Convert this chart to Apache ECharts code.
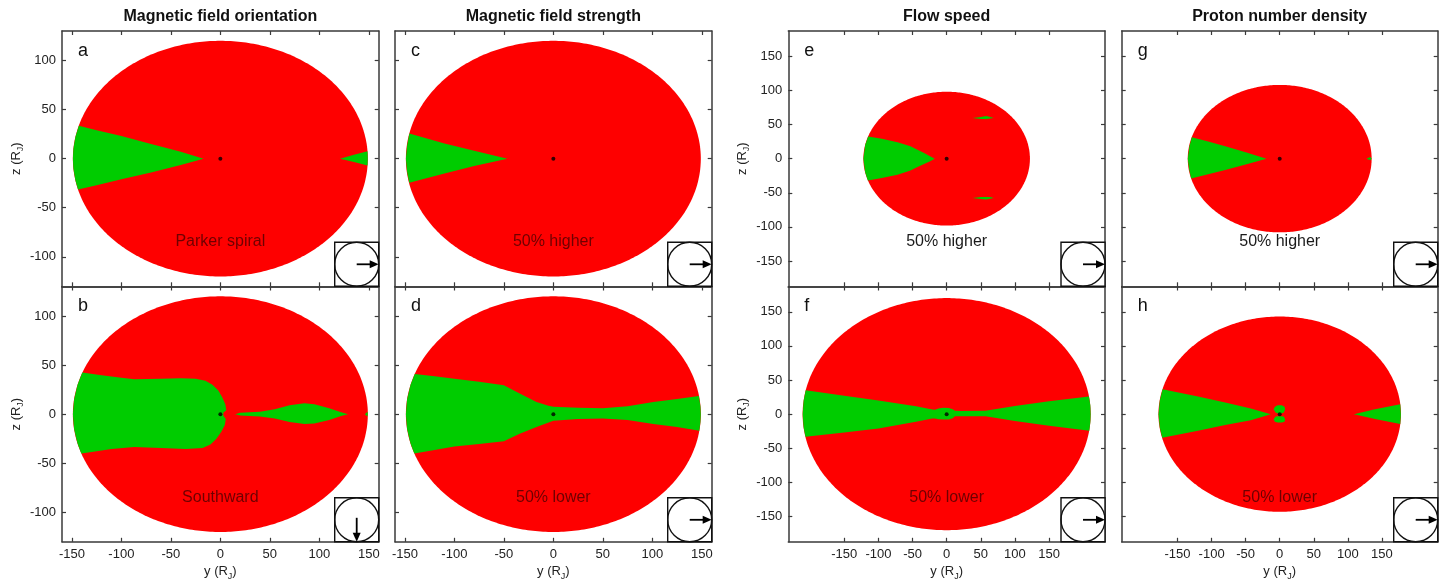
<!DOCTYPE html>
<html><head><meta charset="utf-8">
<script src="https://cdn.jsdelivr.net/npm/echarts@6/dist/echarts.min.js"></script>
<style>html,body{margin:0;padding:0;background:#fff}#c{width:1445px;height:585px}</style>
</head><body><div id="c"></div>
<script>
// ---------------- DATA ----------------
const columnTitles = ['Magnetic field orientation', 'Magnetic field strength', 'Flow speed', 'Proton number density'];
const panelLetters = ['a', 'b', 'c', 'd', 'e', 'f', 'g', 'h'];
const panelNotes = ['Parker spiral', 'Southward', '50% higher', '50% lower', '50% higher', '50% lower', '50% higher', '50% lower'];
const imfArrow = ['right', 'down', 'right', 'right', 'right', 'right', 'right', 'right'];
const yTicks = [-150, -100, -50, 0, 50, 100, 150];
const zTicksNarrow = [-100, -50, 0, 50, 100];
const zTicksWide = [-150, -100, -50, 0, 50, 100, 150];
const rangeNarrow = { y: 160, z: 130 };
const rangeWide = { y: 232, z: 187 };
// magnetopause cross-section half-widths (R_J) per panel a..h
const magnetopauseY = [149, 149, 149, 149, 122, 211, 135, 178];
const magnetopauseZ = [120, 120, 120, 120, 98, 170, 108, 143];
// Jupiter position
const origin = [[0, 0]];
// green regions (y, z in R_J)
const greenA = [
  [[-17,0],[-40,7],[-70,15],[-100,23],[-125,29],[-143,33.5],[-146.5,22],[-148.5,10],[-149,0],[-148.5,-10],[-146.5,-22],[-143.8,-31.5],[-125,-27],[-100,-21],[-70,-14],[-40,-6.5]],
  [[121,0],[135,4],[148.7,7.5],[149,0],[148.7,-7],[135,-3.5]]
];
const greenB = [
  [[-139.5,42.5],[-120,39.5],[-100,37],[-87,35.5],[-60,36],[-40,36.5],[-25,36],[-15,34],[-8,30],[-2,24],[2,17],[5,10],[6,4],[3,1.5],[3,-1.5],[5.5,-5],[4.5,-11],[1,-18],[-4,-25],[-10,-31],[-18,-34.5],[-35,-35.5],[-60,-34.5],[-87,-33.5],[-110,-35.5],[-130,-38.5],[-140.5,-40],[-144.3,-30],[-147.8,-15],[-149,0],[-147.8,15],[-144.3,30]],
  [[15,0],[20,1.5],[40,2.5],[55,5],[70,9],[85,11],[95,10],[110,6],[122,2],[129,0],[122,-2],[110,-6],[95,-9.5],[85,-10],[70,-8],[55,-4.5],[40,-2.5],[20,-1.5]],
  [[146,0],[148.7,2.5],[149,0],[148.7,-2.5]]
];
const greenC = [
  [[-46.5,0],[-80,8],[-110,15.5],[-145.5,25.5],[-147.8,13],[-149,0],[-147.8,-13],[-145.6,-24.5],[-110,-15],[-80,-7.5]]
];
const greenD = [
  [[-140,41],[-120,38.5],[-100,36],[-75,33],[-50,29.5],[-34,21],[-17,12.5],[-5,8.5],[0,7.5],[25,6.5],[50,6],[75,8],[101,12.5],[125,15.5],[147,18.5],
   [148.6,8],[149,0],[148.6,-8],[147.5,-17],
   [125,-13],[101,-10],[75,-6],[50,-4.5],[25,-5],[0,-6.8],[-17,-13],[-34,-20],[-50,-27.5],[-75,-30.5],[-100,-33],[-120,-36.5],[-140.5,-40],
   [-144.3,-30],[-147.8,-15],[-149,0],[-147.8,15],[-144.3,30]]
];
const greenE = [
  [[-17.5,0],[-25,4],[-33,8.3],[-45,14],[-53,18],[-72,24],[-95,29],[-115,32.5],[-119.4,20],[-122,0],[-119.4,-20],[-115.5,-32],[-95,-28.5],[-72,-23.5],[-53,-17.5],[-45,-13.5],[-33,-8],[-25,-4]],
  [[38,59.5],[50,61],[58,62.5],[64,61],[69,59.5],[58,58],[50,58]],
  [[38,-57.5],[50,-56],[58,-56],[64,-56],[69,-57.5],[58,-60],[50,-59]]
];
const greenF = [
  [[-206.5,35],[-150,27],[-100,20],[-45,11.7],[-21,6.9],[-17,6.5],[-12,8.3],[-5,9.2],[3,9],[9,7],[12,4.8],[20,4.6],[57,4.8],[100,12],[150,19],[208.5,26],
   [210.5,13],[211,0],[210.5,-12],[209,-24.4],
   [150,-17],[100,-10],[57,-3],[20,-3],[12,-3],[9,-6],[3,-8],[-5,-8],[-12,-7.5],[-17,-6.3],[-21,-6.3],[-45,-11.2],[-100,-21],[-150,-27],[-206.8,-33],
   [-209.5,-20],[-211,0],[-209.5,20]]
];
const greenG = [
  [[-19.5,0],[-50,9.5],[-80,18],[-105,25],[-129,31.5],[-132.5,18],[-135,0],[-133,-15],[-130,-29],[-105,-23],[-80,-16.5],[-50,-8.5]],
  [[127.5,0],[133,2.5],[135,0],[133,-2.5]]
];
const greenH = [
  [[-13,0],[-42.5,8.3],[-80,17],[-120,26],[-172,36.5],[-176,20],[-178,0],[-176,-20],[-172.5,-34.6],[-120,-24.5],[-80,-16],[-42.5,-8.8]],
  [[-9,7],[-7,11],[-3,13],[3,13],[7,11],[8,7],[6,2.5],[2,1],[-2,1],[-6,2.5]],
  [[-9,-7.5],[-6,-3.5],[-2,-3],[2,-3],[6,-3.5],[8,-7.5],[7,-11],[3,-12.2],[-3,-12.2],[-7,-11]],
  [[109,0],[140,7],[177,14.6],[178,0],[177,-14.6],[140,-7]]
];
const greenRegions = [greenA, greenB, greenC, greenD, greenE, greenF, greenG, greenH];

// ---------------- LAYOUT / STYLE ----------------
const RED = '#fe0000', GREEN = '#00cc00', AXIS = '#3a3a3a';
const FONT = "'Liberation Sans', Arial, Helvetica, sans-serif";
const colLeft = [62, 395, 788.3, 1121.7];
const colWidth = [316.7, 316.7, 316.7, 316];
const rowTop = [31, 286.5];
const rowHeight = 255.3;

const grids = [], xAxes = [], yAxes = [], series = [], graphics = [];
const rich = {
  a: { fontSize: 13, lineHeight: 18, color: '#222', fontFamily: FONT },
  s: { fontSize: 9, lineHeight: 9, verticalAlign: 'bottom', color: '#222', fontFamily: FONT }
};

for (let i = 0; i < 8; i++) {
  const col = Math.floor(i / 2), row = i % 2;
  const wide = col >= 2;
  const rng = wide ? rangeWide : rangeNarrow;
  const zt = wide ? zTicksWide : zTicksNarrow;
  const left = colLeft[col], top = rowTop[row], w = colWidth[col], h = rowHeight;
  grids.push({ left: left, top: top, width: w, height: h, show: false });
  const baseAxis = (pos, ticks, min, max, showLabel) => ({
    type: 'value', gridIndex: i, position: pos, min: min, max: max,
    splitLine: { show: false },
    axisLine: { show: true, onZero: false, lineStyle: { color: AXIS, width: 1.5 } },
    axisTick: { show: true, inside: true, length: 4, customValues: ticks, lineStyle: { color: AXIS, width: 1.2 } },
    axisLabel: { show: showLabel, customValues: ticks, fontSize: 13, color: '#222', fontFamily: FONT, margin: 6 }
  });
  const xb = baseAxis('bottom', yTicks, -rng.y, rng.y, row === 1);
  if (row === 1) {
    xb.name = '{a|y (R}{s|J}{a|)}';
    xb.nameLocation = 'middle';
    xb.nameGap = 21;
    xb.nameTextStyle = { rich: rich };
  }
  xAxes.push(xb);
  xAxes.push(baseAxis('top', yTicks, -rng.y, rng.y, false));
  const showY = (col === 0 || col === 2);
  const yl = baseAxis('left', zt, -rng.z, rng.z, showY);
  if (showY) {
    yl.name = '{a|z (R}{s|J}{a|)}';
    yl.nameLocation = 'middle';
    yl.nameRotate = 90;
    yl.nameGap = 37;
    yl.nameTextStyle = { rich: rich };
  }
  yAxes.push(yl);
  yAxes.push(baseAxis('right', zt, -rng.z, rng.z, false));

  // magnetopause (red region)
  series.push({
    type: 'custom', xAxisIndex: 2 * i, yAxisIndex: 2 * i, silent: true, z: 1,
    data: [[magnetopauseY[i], magnetopauseZ[i]]],
    renderItem: function (params, api) {
      const ry = api.value(0), rz = api.value(1);
      const pts = [];
      for (let k = 0; k < 360; k++) {
        const t = k / 360 * 2 * Math.PI;
        pts.push(api.coord([ry * Math.cos(t), rz * Math.sin(t)]));
      }
      return { type: 'polygon', shape: { points: pts }, style: { fill: RED } };
    }
  });
  // green regions
  const polys = greenRegions[i];
  series.push({
    type: 'custom', xAxisIndex: 2 * i, yAxisIndex: 2 * i, silent: true, z: 2,
    data: polys.map((p, k) => [p[0][0], p[0][1], k]),
    renderItem: function (params, api) {
      const poly = polys[api.value(2)];
      return { type: 'polygon', shape: { points: poly.map(p => api.coord(p)) }, style: { fill: GREEN } };
    }
  });
  // Jupiter
  series.push({
    type: 'scatter', xAxisIndex: 2 * i, yAxisIndex: 2 * i, silent: true, z: 3,
    data: origin, symbolSize: 4, itemStyle: { color: '#000' }
  });

  // panel letter
  graphics.push({ type: 'text', x: left + 16, y: top + 20, silent: true, z: 50,
    style: { text: panelLetters[i], fontSize: 18, fontFamily: FONT, fill: '#111', align: 'left', verticalAlign: 'middle' } });
  // note
  const noteZ = (top + 211 - (top + h / 2)) / (h / (2 * rng.z));
  const inside = Math.abs(noteZ) < magnetopauseZ[i] * 0.95;
  graphics.push({ type: 'text', x: left + w / 2, y: top + 211, silent: true, z: 50,
    style: { text: panelNotes[i], fontSize: 16, fontFamily: FONT, fill: inside ? '#6e0000' : '#1a1a1a', align: 'center', verticalAlign: 'middle' } });
  // IMF inset
  const bs = 44, bx = left + w - bs, by = top + h - bs, cx = bx + bs / 2, cy = by + bs / 2;
  graphics.push({ type: 'rect', silent: true, shape: { x: bx, y: by, width: bs, height: bs },
    style: { fill: '#fff', stroke: '#111', lineWidth: 1.4 }, z: 50 });
  graphics.push({ type: 'circle', silent: true, shape: { cx: cx, cy: cy, r: bs / 2 },
    style: { fill: 'none', stroke: '#111', lineWidth: 1.4 }, z: 51 });
  if (imfArrow[i] === 'right') {
    graphics.push({ type: 'line', silent: true, shape: { x1: cx, y1: cy, x2: bx + bs - 7, y2: cy }, style: { stroke: '#000', lineWidth: 1.8 }, z: 52 });
    graphics.push({ type: 'polygon', silent: true, shape: { points: [[bx + bs, cy], [bx + bs - 9, cy - 4], [bx + bs - 9, cy + 4]] }, style: { fill: '#000' }, z: 52 });
  } else {
    graphics.push({ type: 'line', silent: true, shape: { x1: cx, y1: cy - 2, x2: cx, y2: by + bs - 7 }, style: { stroke: '#000', lineWidth: 1.8 }, z: 52 });
    graphics.push({ type: 'polygon', silent: true, shape: { points: [[cx, by + bs], [cx - 4, by + bs - 9], [cx + 4, by + bs - 9]] }, style: { fill: '#000' }, z: 52 });
  }
}
// column titles
for (let c = 0; c < 4; c++) {
  graphics.push({ type: 'text', x: colLeft[c] + colWidth[c] / 2, y: 17, silent: true, z: 50,
    style: { text: columnTitles[c], fontSize: 16, fontWeight: 'bold', fontFamily: FONT, fill: '#111', align: 'center', verticalAlign: 'middle' } });
}

const chart = echarts.init(document.getElementById('c'), null, { renderer: 'canvas' });
chart.setOption({
  animation: false,
  backgroundColor: '#fff',
  grid: grids, xAxis: xAxes, yAxis: yAxes, series: series, graphic: graphics
});
</script></body></html>
